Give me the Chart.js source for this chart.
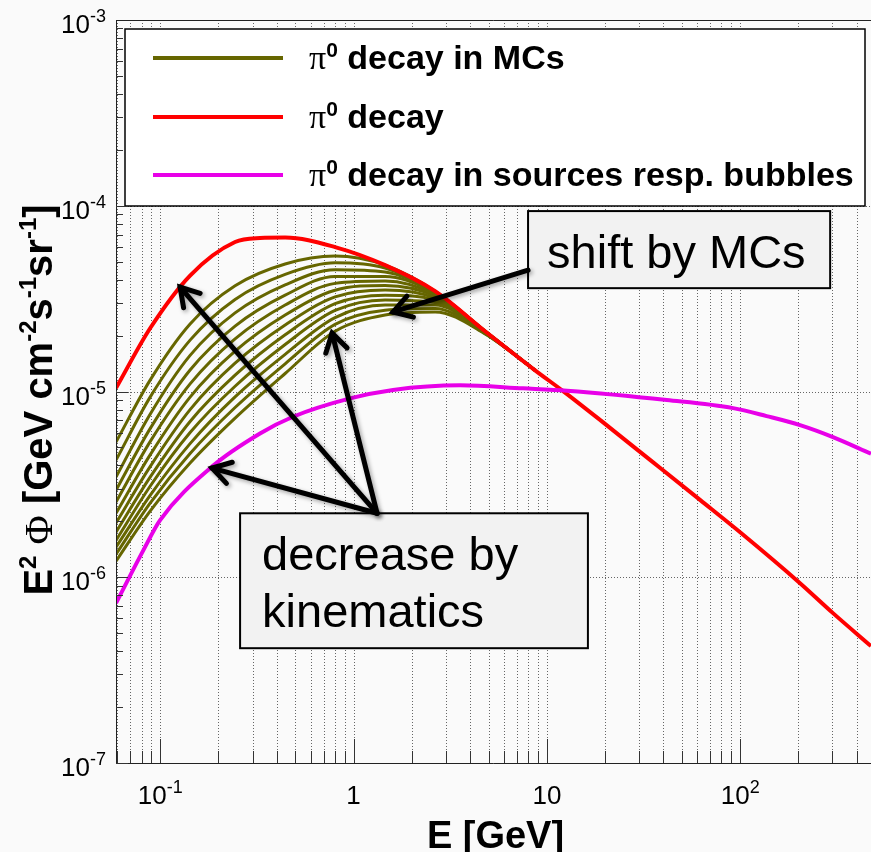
<!DOCTYPE html>
<html>
<head>
<meta charset="utf-8">
<script src="https://cdn.jsdelivr.net/npm/chart.js@4.4.0/dist/chart.umd.min.js"></script>
<style>
  html, body { margin: 0; padding: 0; background: #fafafa; }
  #wrap { width: 871px; height: 852px; }
</style>
</head>
<body>
<div id="wrap"><canvas id="spectrum" width="871" height="852"></canvas></div>
<script>
// E [GeV] and E^2 Phi [GeV cm^-2 s^-1 sr^-1]

// pi0 decay
const energyPi0 = [0.059, 0.0886, 0.1426, 0.2437, 0.328, 0.4425, 0.802, 1.455, 2.64, 4.79, 8.69, 12.13, 18.9, 34.3, 62.2, 101, 204, 302, 475];
const fluxPi0 = [1.043e-5, 2.19e-5, 4.21e-5, 6.38e-5, 6.70e-5, 6.74e-5, 5.99e-5, 4.79e-5, 3.47e-5, 2.11e-5, 1.30e-5, 1.005e-5, 7.01e-6, 4.27e-6, 2.60e-6, 1.73e-6, 9.29e-7, 6.41e-7, 4.26e-7];

// pi0 decay in sources resp. bubbles
const energyBubbles = [0.059, 0.0818, 0.0998, 0.1847, 0.328, 0.486, 0.959, 1.60, 3.56, 7.53, 12.7, 41.7, 91.9, 137, 204, 302, 475];
const fluxBubbles = [7.25e-7, 1.40e-6, 2.03e-6, 3.93e-6, 5.94e-6, 7.31e-6, 9.18e-6, 1.02e-5, 1.08e-5, 1.04e-5, 1.01e-5, 9.0e-6, 8.14e-6, 7.37e-6, 6.59e-6, 5.68e-6, 4.62e-6];

// pi0 decay in MCs, one row per curve (top to bottom)
const energyMC = [0.059, 0.0886, 0.1426, 0.2437, 0.4425, 0.802, 1.455, 2.64, 4.79, 8.69];
const fluxMC = [
  [5.34e-6, 1.152e-5, 2.31e-5, 3.71e-5, 4.86e-5, 5.36e-5, 4.79e-5, 3.47e-5, 2.11e-5, 1.30e-5],
  [4.27e-6, 9.33e-6, 1.89e-5, 3.13e-5, 4.27e-5, 4.93e-5, 4.62e-5, 3.45e-5, 2.11e-5, 1.30e-5],
  [3.46e-6, 7.55e-6, 1.565e-5, 2.65e-5, 3.75e-5, 4.53e-5, 4.40e-5, 3.43e-5, 2.11e-5, 1.30e-5],
  [2.94e-6, 6.31e-6, 1.306e-5, 2.25e-5, 3.30e-5, 4.16e-5, 4.16e-5, 3.39e-5, 2.11e-5, 1.30e-5],
  [2.54e-6, 5.37e-6, 1.099e-5, 1.92e-5, 2.92e-5, 3.82e-5, 3.93e-5, 3.32e-5, 2.10e-5, 1.30e-5],
  [2.21e-6, 4.56e-6, 9.33e-6, 1.648e-5, 2.58e-5, 3.51e-5, 3.72e-5, 3.26e-5, 2.10e-5, 1.30e-5],
  [1.96e-6, 3.94e-6, 7.99e-6, 1.42e-5, 2.28e-5, 3.23e-5, 3.52e-5, 3.18e-5, 2.09e-5, 1.30e-5],
  [1.75e-6, 3.46e-6, 6.90e-6, 1.225e-5, 2.02e-5, 2.97e-5, 3.30e-5, 3.11e-5, 2.09e-5, 1.30e-5],
  [1.58e-6, 3.09e-6, 6.01e-6, 1.067e-5, 1.79e-5, 2.73e-5, 3.11e-5, 3.01e-5, 2.08e-5, 1.30e-5],
  [1.45e-6, 2.76e-6, 5.24e-6, 9.35e-6, 1.585e-5, 2.50e-5, 2.92e-5, 2.92e-5, 2.06e-5, 1.30e-5],
  [1.33e-6, 2.51e-6, 4.64e-6, 8.20e-6, 1.41e-5, 2.30e-5, 2.74e-5, 2.80e-5, 2.05e-5, 1.30e-5],
  [1.22e-6, 2.27e-6, 4.12e-6, 7.19e-6, 1.25e-5, 2.11e-5, 2.58e-5, 2.68e-5, 2.04e-5, 1.30e-5]
];

// axis decades that get a label
const xLabelPowers = [-1, 0, 1, 2];
const yLabelPowers = [-7, -6, -5, -4, -3];

const legendTexts = [' decay in MCs', ' decay', ' decay in sources resp. bubbles'];
const legendColors = ['#666600', '#ff0000', '#e800e8'];

const SANS = '"Liberation Sans", Arial, Helvetica, sans-serif';
const SERIF = '"Liberation Serif", "Times New Roman", serif';

// annotation anchors, in data units
const notes = {
  shiftBox: { x0: 7.99, x1: 292, y0: 9.36e-5, y1: 3.60e-5, lines: ['shift by MCs'] },
  kinBox: { x0: 0.2587, x1: 16.3, y0: 2.21e-6, y1: 4.15e-7, lines: ['decrease by', 'kinematics'] },
  shiftArrow: { from: [7.99, 4.50e-5], to: [1.60, 2.68e-5] },
  kinApex: [1.323, 2.21e-6],
  kinTips: [[0.1266, 3.65e-5], [0.774, 2.06e-5], [0.1853, 3.87e-6]]
};

function pts(xs, ys) {
  return xs.map((x, i) => ({ x: x, y: ys[i] }));
}

function runsWidth(ctx, runs) {
  let w = 0;
  runs.forEach(r => { ctx.font = r.font; w += ctx.measureText(r.text).width; });
  return w;
}

function drawRuns(ctx, runs, x, y) {
  runs.forEach(r => {
    ctx.font = r.font;
    ctx.fillText(r.text, x, y + (r.dy || 0));
    x += ctx.measureText(r.text).width;
  });
}

function powerLabel(n) {
  const big = '26px ' + SANS;
  if (n === 0) return [{ text: '1', font: big }];
  if (n === 1) return [{ text: '10', font: big }];
  return [{ text: '10', font: big }, { text: String(n), font: '18px ' + SANS, dy: -11 }];
}

function arrow(ctx, x0, y0, x1, y1) {
  const a = Math.atan2(y1 - y0, x1 - x0);
  const L = 21, s = 0.55;
  ctx.beginPath();
  ctx.moveTo(x0, y0);
  ctx.lineTo(x1, y1);
  ctx.stroke();
  ctx.beginPath();
  ctx.moveTo(x1 - L * Math.cos(a - s), y1 - L * Math.sin(a - s));
  ctx.lineTo(x1, y1);
  ctx.lineTo(x1 - L * Math.cos(a + s), y1 - L * Math.sin(a + s));
  ctx.stroke();
}

const background = {
  id: 'background',
  beforeDraw(chart) {
    const ctx = chart.ctx;
    ctx.save();
    ctx.fillStyle = '#fafafa';
    ctx.fillRect(0, 0, chart.width, chart.height);
    ctx.restore();
  }
};

// dotted grid: every x sub-decade, y decades only
const gridLines = {
  id: 'gridLines',
  beforeDatasetsDraw(chart) {
    const { ctx, chartArea: ca, scales } = chart;
    const xs = scales.x, ys = scales.y;
    ctx.save();
    ctx.strokeStyle = '#666';
    ctx.lineWidth = 1;
    ctx.setLineDash([1, 2]);
    for (let n = -2; n <= 2; n++) {
      for (let m = 1; m <= 9; m++) {
        const v = m * Math.pow(10, n);
        if (v <= xs.min || v >= xs.max) continue;
        const px = Math.round(xs.getPixelForValue(v)) + 0.5;
        ctx.beginPath();
        ctx.moveTo(px, ca.top);
        ctx.lineTo(px, ca.bottom);
        ctx.stroke();
      }
    }
    for (let n = -6; n <= -4; n++) {
      const py = Math.round(ys.getPixelForValue(Math.pow(10, n))) + 0.5;
      ctx.beginPath();
      ctx.moveTo(ca.left, py);
      ctx.lineTo(ca.right, py);
      ctx.stroke();
    }
    ctx.restore();
  }
};

const frameAndText = {
  id: 'frameAndText',
  afterDatasetsDraw(chart) {
    const { ctx, chartArea: ca, scales } = chart;
    const xs = scales.x, ys = scales.y;
    const X = v => xs.getPixelForValue(v);
    const Y = v => ys.getPixelForValue(v);
    ctx.save();

    // legend box
    const lb = { left: ca.left + 9, top: ca.top + 9, right: 865, bottom: Math.round(Y(1e-4)) };
    ctx.fillStyle = '#ffffff';
    ctx.fillRect(lb.left, lb.top, lb.right - lb.left, lb.bottom - lb.top);
    ctx.strokeStyle = '#000';
    ctx.lineWidth = 1.5;
    ctx.strokeRect(lb.left, lb.top, lb.right - lb.left, lb.bottom - lb.top);
    const rowY = [58, 117, 175];
    legendTexts.forEach((t, i) => {
      ctx.strokeStyle = legendColors[i];
      ctx.lineWidth = 4;
      ctx.beginPath();
      ctx.moveTo(153, rowY[i]);
      ctx.lineTo(283, rowY[i]);
      ctx.stroke();
      ctx.fillStyle = '#000';
      drawRuns(ctx, [
        { text: '\u03c0', font: '34px ' + SERIF },
        { text: '0', font: 'bold 21px ' + SANS, dy: -12 },
        { text: t, font: 'bold 34px ' + SANS }
      ], 309, rowY[i] + 11);
    });

    // frame
    ctx.strokeStyle = '#222';
    ctx.lineWidth = 1;
    ctx.beginPath();
    ctx.moveTo(ca.left + 0.5, ca.top + 0.5);
    ctx.lineTo(ca.right, ca.top + 0.5);
    ctx.moveTo(ca.left + 0.5, ca.top);
    ctx.lineTo(ca.left + 0.5, ca.bottom + 0.5);
    ctx.lineTo(ca.right, ca.bottom + 0.5);
    ctx.stroke();

    // inward ticks
    ctx.strokeStyle = '#333';
    ctx.beginPath();
    for (let n = -2; n <= 2; n++) {
      for (let m = 1; m <= 9; m++) {
        const v = m * Math.pow(10, n);
        if (v <= xs.min || v >= xs.max) continue;
        const px = Math.round(X(v)) + 0.5;
        ctx.moveTo(px, ca.bottom);
        ctx.lineTo(px, ca.bottom - (m === 1 ? 24 : 12));
      }
    }
    for (let n = -7; n <= -4; n++) {
      for (let m = 1; m <= 9; m++) {
        const v = m * Math.pow(10, n);
        const py = Math.round(Y(v)) + 0.5;
        ctx.moveTo(ca.left, py);
        ctx.lineTo(ca.left + (m === 1 ? 12 : 7), py);
      }
    }
    ctx.stroke();

    // tick labels
    ctx.fillStyle = '#000';
    ctx.textBaseline = 'alphabetic';
    yLabelPowers.forEach(n => {
      const runs = powerLabel(n);
      const w = runsWidth(ctx, runs);
      drawRuns(ctx, runs, ca.left - 10 - w, Y(Math.pow(10, n)) + 13);
    });
    xLabelPowers.forEach(n => {
      const runs = powerLabel(n);
      const w = runsWidth(ctx, runs);
      drawRuns(ctx, runs, X(Math.pow(10, n)) - w / 2, ca.bottom + 41);
    });

    // axis titles
    const xTitle = [{ text: 'E [GeV]', font: 'bold 38px ' + SANS }];
    drawRuns(ctx, xTitle, (ca.left + ca.right) / 2 - runsWidth(ctx, xTitle) / 2 + 2, 848);

    const bold = 'bold 40px ' + SANS, sup = 'bold 24px ' + SANS;
    const yTitle = [
      { text: 'E', font: bold }, { text: '2', font: sup, dy: -16 },
      { text: ' ', font: bold }, { text: '\u03a6', font: '40px ' + SERIF },
      { text: ' [GeV cm', font: bold }, { text: '-2', font: sup, dy: -16 },
      { text: 's', font: bold }, { text: '-1', font: sup, dy: -16 },
      { text: 'sr', font: bold }, { text: '-1', font: sup, dy: -16 },
      { text: ']', font: bold }
    ];
    ctx.save();
    ctx.translate(52, 400);
    ctx.rotate(-Math.PI / 2);
    drawRuns(ctx, yTitle, -runsWidth(ctx, yTitle) / 2, 0);
    ctx.restore();

    // annotation boxes
    [notes.shiftBox, notes.kinBox].forEach((b, i) => {
      const l = X(b.x0), r = X(b.x1), t = Y(b.y0), btm = Y(b.y1);
      ctx.fillStyle = '#f2f2f2';
      ctx.fillRect(l, t, r - l, btm - t);
      ctx.strokeStyle = '#000';
      ctx.lineWidth = 2;
      ctx.strokeRect(l, t, r - l, btm - t);
      ctx.fillStyle = '#000';
      ctx.font = '47px ' + SANS;
      b.lines.forEach((s, k) => {
        ctx.fillText(s, l + (i === 0 ? 19 : 22), t + 57 + k * 57);
      });
    });

    // arrows
    ctx.strokeStyle = '#000';
    ctx.lineWidth = 5;
    ctx.lineCap = 'round';
    ctx.lineJoin = 'miter';
    ctx.shadowColor = 'rgba(0,0,0,0.35)';
    ctx.shadowBlur = 4;
    ctx.shadowOffsetX = 2;
    ctx.shadowOffsetY = 2;
    const sa = notes.shiftArrow;
    arrow(ctx, X(sa.from[0]), Y(sa.from[1]), X(sa.to[0]), Y(sa.to[1]));
    const ax = X(notes.kinApex[0]), ay = Y(notes.kinApex[1]);
    notes.kinTips.forEach(p => arrow(ctx, ax, ay, X(p[0]), Y(p[1])));

    ctx.restore();
  }
};

const common = { pointRadius: 0, fill: false, cubicInterpolationMode: 'monotone', borderCapStyle: 'butt' };

const datasets = [
  Object.assign({ label: 'bubbles', data: pts(energyBubbles, fluxBubbles), borderColor: '#e800e8', borderWidth: 4 }, common),
  Object.assign({ label: 'pi0', data: pts(energyPi0, fluxPi0), borderColor: '#ff0000', borderWidth: 4 }, common)
].concat(fluxMC.map((f, k) =>
  Object.assign({ label: 'MC ' + (k + 1), data: pts(energyMC, f), borderColor: '#666600', borderWidth: 3 }, common)
));

new Chart(document.getElementById('spectrum'), {
  type: 'line',
  data: { datasets: datasets },
  options: {
    responsive: false,
    devicePixelRatio: 1,
    animation: false,
    layout: { padding: { left: 116, top: 20, right: 0, bottom: 89 } },
    scales: {
      x: { type: 'logarithmic', min: 0.059, max: 475, display: false },
      y: { type: 'logarithmic', min: 1e-7, max: 1e-3, display: false }
    },
    plugins: {
      legend: { display: false },
      tooltip: { enabled: false }
    }
  },
  plugins: [background, gridLines, frameAndText]
});
</script>
</body>
</html>
